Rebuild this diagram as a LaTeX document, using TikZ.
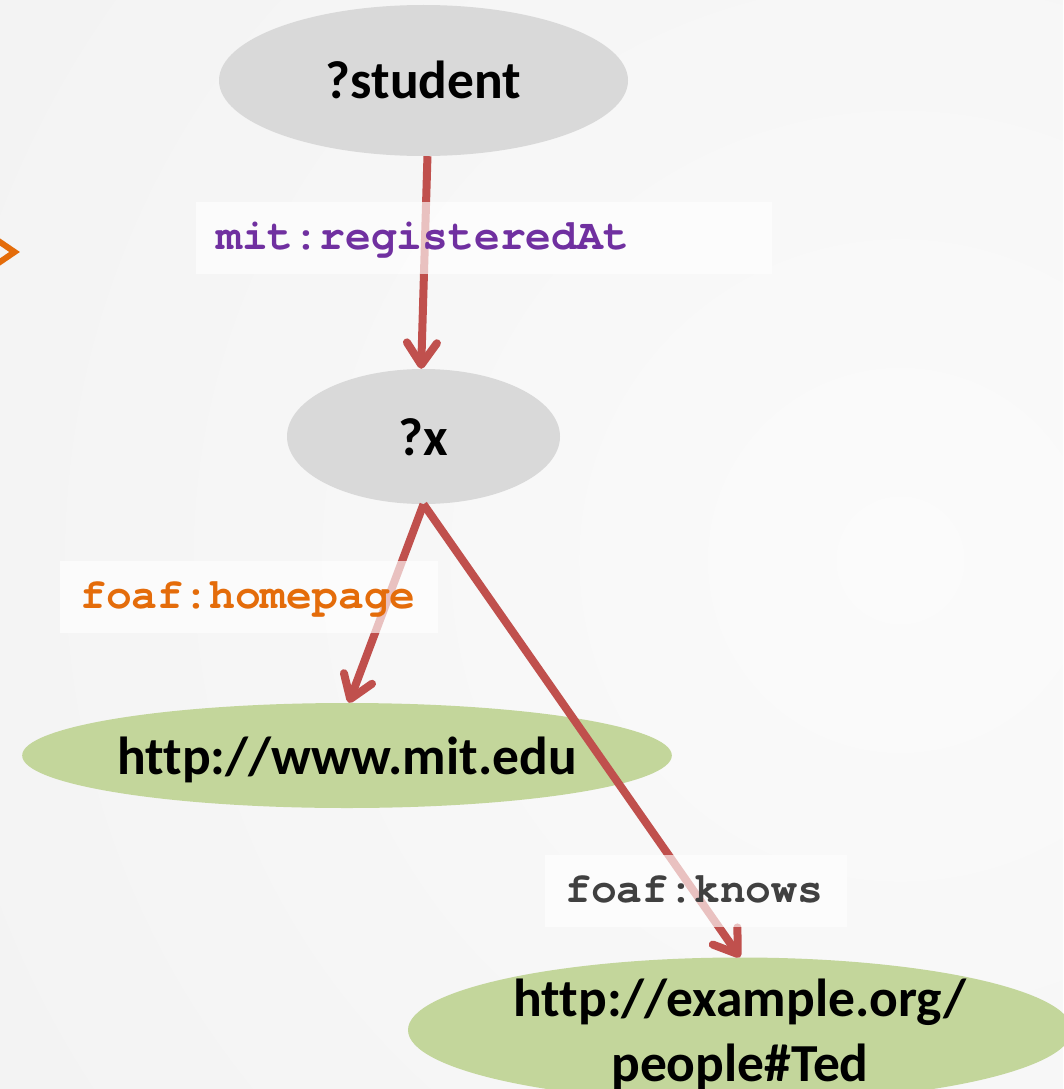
\documentclass[tikz,border=0pt]{standalone}
\usepackage{fontspec}
\setmainfont{Carlito}[Ligatures=NoCommon]
\newfontfamily\codefont{TeX Gyre Cursor}
\usetikzlibrary{shapes.geometric,arrows.meta}
\definecolor{bgin}{RGB}{251,251,251}
\definecolor{bgout}{RGB}{237,237,237}
\definecolor{nodegray}{RGB}{217,217,217}
\definecolor{nodegreen}{RGB}{195,214,155}
\definecolor{arrowred}{RGB}{192,80,77}
\definecolor{lblpurple}{RGB}{112,48,160}
\definecolor{lblorange}{RGB}{228,108,10}
\definecolor{lblgray}{RGB}{64,64,64}
\begin{document}
\begin{tikzpicture}[x=1pt,y=-1pt,
  vnode/.style={ellipse, inner sep=0pt, font=\fontsize{53.5}{65}\selectfont\bfseries},
  gnode/.style={vnode, fill=nodegray, text height=37pt, text depth=0pt},
  grnode/.style={vnode, fill=nodegreen},
  rel/.style={draw=arrowred, line width=8pt, -{Straight Barb[length=22pt,width=30pt,round]}},
  lbl/.style={fill=white, fill opacity=0.65, text opacity=1, inner xsep=20pt, inner ysep=0pt,
    minimum height=72pt, align=left, text height=22pt, text depth=0pt, anchor=north west,
    font=\codefont\fontsize{43}{48}\selectfont\bfseries},
  chev/.style={draw=lblorange, line width=6pt, line join=miter}]
\useasboundingbox (0,0) rectangle (1063,1089);
\begin{scope}
  \clip (0,0) rectangle (1063,1089);
  \shade[inner color=bgin, outer color=bgout] (-900,-1240) rectangle (2700,2360);
\end{scope}
% orange chevron at left edge
\draw[chev] (-3,240) -- (14.6,252) -- (-3,264);
% nodes
\node[gnode, minimum width=409pt, minimum height=151pt] (student) at (423.5,80.5) {?student};
\node[gnode, minimum width=273pt, minimum height=135pt] (x) at (423.5,436.5) {?x};
\node[grnode, minimum width=648pt, minimum height=105pt, text height=37pt, text depth=0pt] (mit) at (347,755.5) {http://www.mit.edu};
\node[grnode, minimum width=664pt, minimum height=130pt, align=center, text depth=0pt] (ted) at (740,1030) {http://example.org/\\people\#Ted};
% connectors
\draw[rel] (student.-87.4) -- (x.92.9);
\draw[rel] (x.-90) -- (mit.88);
\draw[rel] (x.-90) -- (ted.90);
% edge labels
\node[lbl, text width=536pt, text=lblpurple] (l1) at (196,202) {mit:registeredAt};
\node[lbl, text width=338pt, text=lblorange] (l2) at (60,561) {foaf:homepage};
\node[lbl, text width=262pt, text=lblgray] (l3) at (545,855) {foaf:knows};
\end{tikzpicture}
\end{document}
